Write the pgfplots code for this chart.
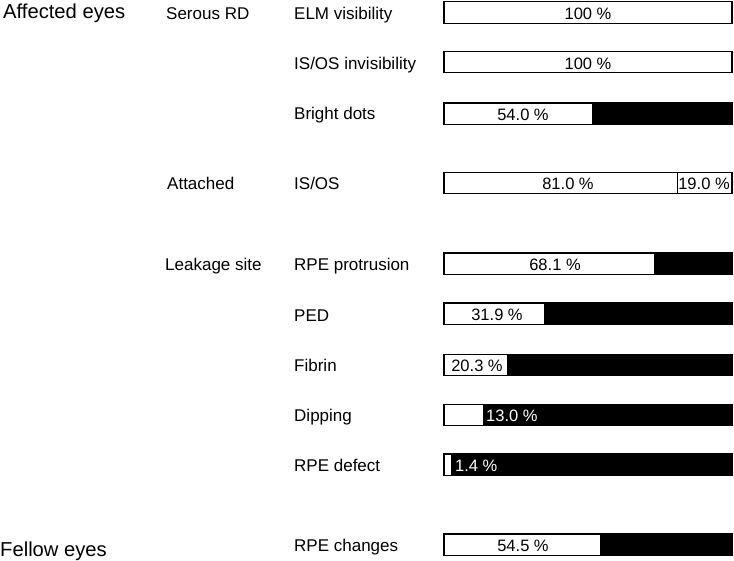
\documentclass[border=0pt]{standalone}
\usepackage{pgfplots}
\pgfplotsset{compat=1.18}
\usepackage{fontspec}
\setmainfont{Liberation Sans}
\begin{document}
\begin{tikzpicture}
\path[use as bounding box] (0,0) rectangle (734pt,-561pt);
\begin{axis}[
  scale only axis, width=288pt, height=561pt,
  at={(444pt,0pt)}, anchor=north west,
  xmin=0, xmax=100, ymin=0, ymax=561, y dir=reverse,
  hide axis, clip=false,
  xbar stacked, bar width=21.5pt,
  every axis plot/.append style={draw=black, line width=1.3pt},
]
% white part (labelled percentage, bar drawn as in the figure)
\addplot[fill=white] coordinates {
 (100,12.5) (100,62) (51.6,113.7) (81,183) (73.3,263.7)
 (35.0,313.7) (22.2,365) (13.9,415) (2.7,464.7) (54.5,544.7)};
% second white part (IS/OS 19.0 %)
\addplot[fill=white] coordinates {
 (0,12.5) (0,62) (0,113.7) (19,183) (0,263.7)
 (0,313.7) (0,365) (0,415) (0,464.7) (0,544.7)};
% black remainder
\addplot[fill=black] coordinates {
 (0,12.5) (0,62) (48.4,113.7) (0,183) (26.7,263.7)
 (65.0,313.7) (77.8,365) (86.1,415) (97.3,464.7) (45.5,544.7)};
\end{axis}
% percentage labels
\begin{scope}[every node/.style={font=\fontsize{16.5}{19}\selectfont, inner sep=0pt}]
\node[anchor=base] at (588pt,-19.3pt) {100 \%};
\node[anchor=base] at (588pt,-69.8pt) {100 \%};
\node[anchor=base] at (523pt,-120.4pt) {54.0 \%};
\node[anchor=base] at (568pt,-189.7pt) {81.0 \%};
\node[anchor=base] at (704pt,-189.7pt) {19.0 \%};
\node[anchor=base] at (555pt,-270.4pt) {68.1 \%};
\node[anchor=base] at (497pt,-320.4pt) {31.9 \%};
\node[anchor=base] at (477pt,-371.7pt) {20.3 \%};
\node[anchor=base west, text=white] at (486pt,-421.7pt) {13.0 \%};
\node[anchor=base west, text=white] at (455pt,-471.4pt) {1.4 \%};
\node[anchor=base] at (523pt,-551.4pt) {54.5 \%};
\end{scope}
% row labels
\begin{scope}[every node/.style={font=\fontsize{17}{20}\selectfont, inner sep=0pt, anchor=base west}]
\node at (294pt,-19.3pt) {ELM visibility};
\node at (294pt,-70pt) {IS/OS invisibility};
\node at (294pt,-120pt) {Bright dots};
\node at (294pt,-189.5pt) {IS/OS};
\node at (294pt,-270.7pt) {RPE protrusion};
\node at (294pt,-321.7pt) {PED};
\node at (294pt,-372pt) {Fibrin};
\node at (294pt,-421.5pt) {Dipping};
\node at (294pt,-471.7pt) {RPE defect};
\node at (294pt,-551.7pt) {RPE changes};
\node at (166pt,-19.3pt) {Serous RD};
\node at (167pt,-189.5pt) {Attached};
\node at (165pt,-270.7pt) {Leakage site};
\end{scope}
\begin{scope}[every node/.style={font=\fontsize{20.2}{24}\selectfont, inner sep=0pt, anchor=base west}]
\node at (3pt,-18.3pt) {Affected eyes};
\node at (0pt,-556.7pt) {Fellow eyes};
\end{scope}
\end{tikzpicture}
\end{document}
